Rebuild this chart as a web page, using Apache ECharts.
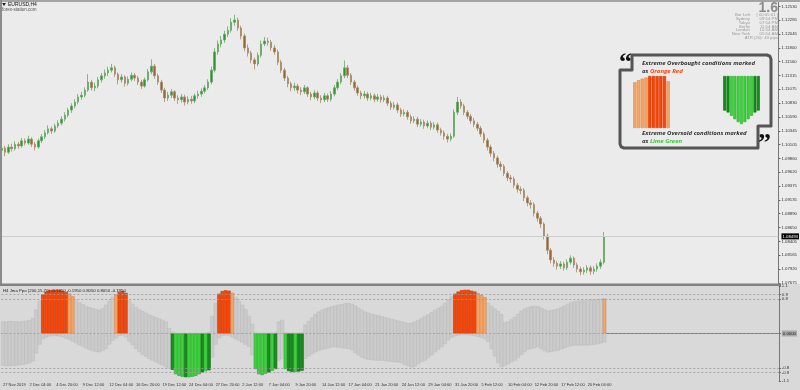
<!DOCTYPE html>
<html><head><meta charset="utf-8">
<script src="https://cdn.jsdelivr.net/npm/echarts@6/dist/echarts.min.js"></script>
<style>html,body{margin:0;padding:0;background:#d9d9d9}#c{width:800px;height:390px}</style>
</head><body><div id="c"></div>
<script>
// ---- data ----
const xLabels = ["27 Nov 2019","2 Dec 04:00","4 Dec 20:00","9 Dec 12:00","12 Dec 04:00","16 Dec 20:00","19 Dec 12:00","24 Dec 04:00","27 Dec 20:00","2 Jan 12:00","7 Jan 04:00","9 Jan 20:00","14 Jan 12:00","17 Jan 04:00","21 Jan 20:00","24 Jan 12:00","29 Jan 04:00","31 Jan 20:00","5 Feb 12:00","10 Feb 04:00","12 Feb 20:00","17 Feb 12:00","20 Feb 04:00"];
const priceTicks = [1.07675,1.07920,1.08165,1.08405,1.08650,1.08890,1.09135,1.09375,1.09620,1.09860,1.10105,1.10345,1.10590,1.10830,1.11075,1.11315,1.11560,1.11800,1.12045,1.12285,1.12530];
const ppoLevels = [1.1,0.9,0.8,0,-0.8,-0.9,-1.1];
const ppoDashed = [0.9,0.8,0,-0.8,-0.9];
const currentPrice = 1.08493;

const opens = [
1.1000,1.1004,1.0997,1.1006,1.1003,1.1011,1.1008,1.1017,1.1013,1.1020,
1.1011,1.1006,1.1017,1.1024,1.1031,1.1038,1.1034,1.1043,1.1048,1.1055,
1.1062,1.1071,1.1078,1.1085,1.1094,1.1097,1.1106,1.1120,1.1110,1.1113,
1.1124,1.1131,1.1136,1.1141,1.1145,1.1134,1.1124,1.1129,1.1118,1.1125,
1.1132,1.1127,1.1120,1.1113,1.1124,1.1138,1.1148,1.1131,1.1120,1.1106,
1.1092,1.1097,1.1103,1.1092,1.1089,1.1094,1.1085,1.1090,1.1087,1.1096,
1.1099,1.1104,1.1110,1.1120,1.1141,1.1173,1.1187,1.1194,1.1204,1.1211,
1.1225,1.1229,1.1215,1.1201,1.1180,1.1171,1.1159,1.1152,1.1167,1.1187,
1.1192,1.1190,1.1180,1.1173,1.1155,1.1141,1.1127,1.1117,1.1110,1.1113,
1.1106,1.1103,1.1110,1.1099,1.1094,1.1101,1.1092,1.1089,1.1096,1.1090,
1.1099,1.1110,1.1120,1.1131,1.1145,1.1132,1.1120,1.1110,1.1101,1.1096,
1.1099,1.1092,1.1096,1.1090,1.1094,1.1089,1.1092,1.1083,1.1076,1.1080,
1.1071,1.1064,1.1067,1.1059,1.1052,1.1055,1.1046,1.1050,1.1043,1.1048,
1.1041,1.1045,1.1036,1.1031,1.1025,1.1020,1.1025,1.1067,1.1085,1.1078,
1.1067,1.1060,1.1052,1.1046,1.1039,1.1029,1.1018,1.1006,1.0995,1.0987,
1.0976,1.0972,1.0960,1.0952,1.0950,1.0939,1.0932,1.0930,1.0917,1.0908,
1.0905,1.0890,1.0881,1.0871,1.0850,1.0825,1.0808,1.0802,1.0797,1.0801,
1.0794,1.0804,1.0811,1.0799,1.0792,1.0787,1.0790,1.0794,1.0788,1.0792,
1.0797,1.0804];
const closes = [
1.1004,1.0997,1.1006,1.1003,1.1011,1.1008,1.1017,1.1013,1.1020,1.1011,
1.1006,1.1017,1.1024,1.1031,1.1038,1.1034,1.1043,1.1048,1.1055,1.1062,
1.1071,1.1078,1.1085,1.1094,1.1097,1.1106,1.1120,1.1110,1.1113,1.1124,
1.1131,1.1136,1.1141,1.1145,1.1134,1.1124,1.1129,1.1118,1.1125,1.1132,
1.1127,1.1120,1.1113,1.1124,1.1138,1.1148,1.1131,1.1120,1.1106,1.1092,
1.1097,1.1103,1.1092,1.1089,1.1094,1.1085,1.1090,1.1087,1.1096,1.1099,
1.1104,1.1110,1.1120,1.1141,1.1173,1.1187,1.1194,1.1204,1.1211,1.1225,
1.1229,1.1215,1.1201,1.1180,1.1171,1.1159,1.1152,1.1167,1.1187,1.1192,
1.1190,1.1180,1.1173,1.1155,1.1141,1.1127,1.1117,1.1110,1.1113,1.1106,
1.1103,1.1110,1.1099,1.1094,1.1101,1.1092,1.1089,1.1096,1.1090,1.1099,
1.1110,1.1120,1.1131,1.1145,1.1132,1.1120,1.1110,1.1101,1.1096,1.1099,
1.1092,1.1096,1.1090,1.1094,1.1089,1.1092,1.1083,1.1076,1.1080,1.1071,
1.1064,1.1067,1.1059,1.1052,1.1055,1.1046,1.1050,1.1043,1.1048,1.1041,
1.1045,1.1036,1.1031,1.1025,1.1020,1.1025,1.1067,1.1085,1.1078,1.1067,
1.1060,1.1052,1.1046,1.1039,1.1029,1.1018,1.1006,1.0995,1.0987,1.0976,
1.0972,1.0960,1.0952,1.0950,1.0939,1.0932,1.0930,1.0917,1.0908,1.0905,
1.0890,1.0881,1.0871,1.0850,1.0825,1.0808,1.0802,1.0797,1.0801,1.0794,
1.0804,1.0811,1.0799,1.0792,1.0787,1.0790,1.0794,1.0788,1.0792,1.0797,
1.0804,1.0849];
const highs = [
1.1010,1.1008,1.1011,1.1012,1.1016,1.1015,1.1022,1.1021,1.1026,1.1023,
1.1015,1.1021,1.1029,1.1036,1.1044,1.1042,1.1047,1.1053,1.1060,1.1067,
1.1075,1.1083,1.1090,1.1099,1.1103,1.1111,1.1134,1.1124,1.1119,1.1129,
1.1136,1.1142,1.1147,1.1152,1.1149,1.1137,1.1134,1.1132,1.1130,1.1137,
1.1136,1.1131,1.1124,1.1128,1.1143,1.1160,1.1152,1.1135,1.1124,1.1110,
1.1103,1.1108,1.1106,1.1097,1.1099,1.1098,1.1095,1.1096,1.1100,1.1105,
1.1109,1.1115,1.1125,1.1147,1.1180,1.1193,1.1201,1.1210,1.1218,1.1232,
1.1238,1.1233,1.1219,1.1205,1.1186,1.1175,1.1163,1.1172,1.1193,1.1199,
1.1198,1.1194,1.1185,1.1177,1.1159,1.1145,1.1131,1.1121,1.1119,1.1117,
1.1111,1.1115,1.1113,1.1103,1.1106,1.1105,1.1097,1.1101,1.1100,1.1104,
1.1115,1.1125,1.1136,1.1158,1.1150,1.1136,1.1124,1.1114,1.1105,1.1104,
1.1103,1.1101,1.1100,1.1099,1.1098,1.1097,1.1096,1.1087,1.1085,1.1084,
1.1075,1.1072,1.1071,1.1063,1.1060,1.1059,1.1055,1.1054,1.1053,1.1052,
1.1050,1.1049,1.1040,1.1035,1.1029,1.1030,1.1072,1.1094,1.1090,1.1082,
1.1071,1.1064,1.1057,1.1050,1.1043,1.1033,1.1022,1.1010,1.0999,1.0991,
1.0981,1.0976,1.0964,1.0957,1.0954,1.0943,1.0937,1.0934,1.0921,1.0913,
1.0909,1.0894,1.0885,1.0874,1.0854,1.0829,1.0813,1.0806,1.0806,1.0805,
1.0809,1.0816,1.0814,1.0803,1.0796,1.0795,1.0799,1.0798,1.0797,1.0802,
1.0809,1.0857];
const lows = [
1.0995,1.0990,1.0994,1.0998,1.1000,1.1003,1.1005,1.1009,1.1010,1.1006,
1.1000,1.1003,1.1013,1.1020,1.1028,1.1029,1.1031,1.1039,1.1044,1.1051,
1.1058,1.1066,1.1074,1.1081,1.1089,1.1093,1.1103,1.1105,1.1104,1.1109,
1.1119,1.1126,1.1131,1.1137,1.1129,1.1116,1.1119,1.1112,1.1114,1.1121,
1.1122,1.1115,1.1108,1.1110,1.1121,1.1134,1.1126,1.1115,1.1101,1.1085,
1.1087,1.1092,1.1087,1.1082,1.1084,1.1079,1.1081,1.1082,1.1083,1.1091,
1.1094,1.1100,1.1106,1.1116,1.1137,1.1168,1.1181,1.1189,1.1199,1.1207,
1.1219,1.1210,1.1195,1.1174,1.1165,1.1153,1.1142,1.1148,1.1163,1.1183,
1.1184,1.1175,1.1168,1.1150,1.1136,1.1122,1.1111,1.1104,1.1105,1.1100,
1.1097,1.1099,1.1094,1.1088,1.1090,1.1087,1.1083,1.1085,1.1085,1.1086,
1.1095,1.1106,1.1116,1.1127,1.1127,1.1115,1.1105,1.1096,1.1090,1.1091,
1.1087,1.1088,1.1085,1.1086,1.1084,1.1085,1.1078,1.1071,1.1072,1.1066,
1.1059,1.1060,1.1054,1.1047,1.1048,1.1041,1.1042,1.1038,1.1039,1.1036,
1.1037,1.1031,1.1026,1.1019,1.1014,1.1016,1.1022,1.1062,1.1073,1.1062,
1.1055,1.1047,1.1041,1.1034,1.1024,1.1013,1.1000,1.0989,1.0981,1.0970,
1.0965,1.0955,1.0946,1.0943,1.0934,1.0926,1.0923,1.0911,1.0902,1.0898,
1.0884,1.0875,1.0864,1.0844,1.0818,1.0802,1.0796,1.0791,1.0792,1.0789,
1.0790,1.0800,1.0794,1.0786,1.0781,1.0782,1.0785,1.0782,1.0783,1.0787,
1.0792,1.0800];

const ppoUpper = [
0.27,0.27,0.28,0.28,0.27,0.27,0.28,0.29,0.30,0.35,
0.55,0.75,0.90,0.97,1.00,1.01,1.01,1.00,0.98,0.96,
0.92,0.86,0.76,0.71,0.67,0.63,0.60,0.58,0.56,0.54,
0.58,0.66,0.75,0.84,0.90,0.96,0.98,0.94,0.76,0.68,
0.60,0.55,0.51,0.47,0.43,0.40,0.37,0.34,0.31,0.27,
0.12,0.03,0.01,0.01,0.01,0.01,0.01,0.01,0.01,0.01,
0.01,0.01,0.03,0.40,0.70,0.92,0.98,1.00,0.99,0.94,
0.84,0.75,0.66,0.56,0.40,0.22,0.02,0.01,0.01,0.01,
0.01,0.01,0.02,0.27,0.31,0.02,0.01,0.01,0.01,0.01,
0.02,0.20,0.28,0.36,0.44,0.50,0.54,0.57,0.60,0.62,
0.64,0.66,0.67,0.69,0.70,0.68,0.64,0.59,0.54,0.50,
0.47,0.45,0.43,0.41,0.39,0.37,0.35,0.33,0.31,0.29,
0.27,0.25,0.23,0.24,0.27,0.31,0.35,0.40,0.44,0.49,
0.54,0.58,0.62,0.70,0.78,0.85,0.92,0.97,1.00,1.01,
1.01,0.99,0.97,0.93,0.89,0.84,0.70,0.63,0.57,0.51,
0.44,0.25,0.27,0.32,0.38,0.45,0.52,0.57,0.60,0.62,
0.63,0.62,0.59,0.55,0.52,0.53,0.55,0.57,0.60,0.64,
0.68,0.72,0.74,0.75,0.76,0.77,0.77,0.78,0.78,0.79,
0.80,0.805];
const ppoLower = [
-0.74,-0.75,-0.75,-0.74,-0.74,-0.73,-0.72,-0.70,-0.68,-0.64,
-0.45,-0.25,-0.12,-0.08,-0.06,-0.05,-0.05,-0.06,-0.08,-0.11,
-0.14,-0.18,-0.22,-0.26,-0.30,-0.34,-0.37,-0.40,-0.42,-0.43,
-0.40,-0.35,-0.25,-0.16,-0.10,-0.05,-0.04,-0.08,-0.18,-0.26,
-0.35,-0.42,-0.48,-0.53,-0.58,-0.62,-0.66,-0.70,-0.73,-0.77,
-0.80,-0.84,-0.94,-0.98,-1.00,-1.01,-1.01,-1.00,-0.98,-0.94,
-0.90,-0.87,-0.85,-0.55,-0.25,-0.10,-0.05,-0.04,-0.05,-0.08,
-0.12,-0.16,-0.20,-0.25,-0.30,-0.50,-0.82,-0.94,-0.96,-0.93,
-0.90,-0.86,-0.82,-0.62,-0.58,-0.82,-0.87,-0.89,-0.89,-0.88,
-0.86,-0.58,-0.52,-0.47,-0.43,-0.40,-0.37,-0.35,-0.33,-0.31,
-0.31,-0.32,-0.33,-0.34,-0.35,-0.38,-0.44,-0.50,-0.55,-0.58,
-0.60,-0.61,-0.62,-0.62,-0.62,-0.63,-0.64,-0.65,-0.66,-0.66,
-0.68,-0.72,-0.75,-0.78,-0.76,-0.70,-0.65,-0.62,-0.56,-0.50,
-0.43,-0.37,-0.31,-0.24,-0.15,-0.09,-0.06,-0.04,-0.03,-0.03,
-0.03,-0.04,-0.05,-0.07,-0.09,-0.12,-0.19,-0.35,-0.52,-0.68,
-0.77,-0.74,-0.70,-0.66,-0.62,-0.56,-0.49,-0.42,-0.37,-0.35,
-0.33,-0.31,-0.35,-0.40,-0.43,-0.42,-0.40,-0.39,-0.36,-0.33,
-0.30,-0.28,-0.27,-0.27,-0.27,-0.27,-0.27,-0.26,-0.25,-0.24,
-0.22,-0.195];
// 0 = normal, 1 = orange red, 2 = light orange, 3 = lime green, 4 = dark green
const ppoState = [
0,0,0,0,0,0,0,0,0,0,
0,0,1,1,1,1,1,1,1,1,
2,2,0,0,0,0,0,0,0,0,
0,0,0,0,2,1,1,1,0,0,
0,0,0,0,0,0,0,0,0,0,
0,4,3,3,3,4,3,3,3,3,
4,3,4,0,0,1,1,1,1,2,
0,0,0,0,0,0,3,3,3,3,
4,3,4,0,0,3,4,4,3,4,
4,0,0,0,0,0,0,0,0,0,
0,0,0,0,0,0,0,0,0,0,
0,0,0,0,0,0,0,0,0,0,
0,0,0,0,0,0,0,0,0,0,
0,0,0,0,0,0,1,1,1,1,
1,1,1,2,2,2,0,0,0,0,
0,0,0,0,0,0,0,0,0,0,
0,0,0,0,0,0,0,0,0,0,
0,0,0,0,0,0,0,0,0,0,
0,2];
// callout illustration bars
const legendOB = [0.88,0.92,0.95,0.97,1,1,1,1,1,0.9];
const legendOBState = [2,2,2,2,1,1,1,1,1,2];
const legendOS = [-0.72,-0.76,-0.83,-0.9,-0.96,-1,-0.96,-0.9,-0.83,-0.76,-0.72];
const legendOSState = [4,4,3,3,3,3,3,3,3,4,4];

// ---- chart ----
const SLOTS = 234;
const slots = Array.from({length: SLOTS}, (_, i) => String(i));
const FONT = '"Liberation Sans", Arial, sans-serif';
const stateFill = ['', '#FF4500', '#F5A463', '#3ED23E', '#13901A'];
const stateEdge = ['', '#C8380A', '#E08A4C', '#25AE25', '#0A6A0F'];
const candleData = closes.map((c, i) => [opens[i], c, lows[i], highs[i]]);
const bandData = ppoUpper.map((u, i) => [i, ppoLower[i], u]);
const extremeData = ppoState.map((s, i) => s === 0 ? '-' : {
  value: s <= 2 ? ppoUpper[i] : ppoLower[i],
  itemStyle: {color: stateFill[s], borderColor: stateEdge[s], borderWidth: 0.6}
});
const legendItems = (vals, states) => vals.map((v, i) => ({value: v, itemStyle: {color: stateFill[states[i]], borderColor: stateEdge[states[i]], borderWidth: 0.6}}));
const xInterval = (idx) => idx % 8 === 0 && idx / 8 < xLabels.length;

const infoRows = [['Bar Left','[ 00:05:01 ]'],['Sydney','09:54 PM'],['Tokyo','07:54 PM'],['Berlin','11:54 AM'],['London','10:54 AM'],['New York','05:54 AM']];
const calloutOutline = [[632,55],[767,55],[769.8,56.2],[771,59],[771,126],[758,126],[758,148],[624,148],[621.2,146.8],[620,144],[620,70],[632,70]];
const graphics = [
  {type:'rect', z:-10, shape:{x:0,y:0,width:800,height:284}, style:{fill:'#EBEBEB'}},
  {type:'rect', z:50, shape:{x:0,y:0,width:800,height:2}, style:{fill:'#A4A4A4'}},
  {type:'rect', z:50, shape:{x:0,y:0,width:2,height:284}, style:{fill:'#8C8C8C'}},
  {type:'rect', z:50, shape:{x:0,y:283.5,width:781,height:2.5}, style:{fill:'#828282'}},
  {type:'polygon', z:60, shape:{points:[[2,3],[6,3],[4,6]]}, style:{fill:'#222'}},
  {type:'text', z:60, x:8, y:2, style:{text:'EURUSD,H4', font:'5px '+FONT, fill:'#111', textVerticalAlign:'top'}},
  {type:'text', z:60, x:2, y:7.5, style:{text:'forex-station.com', font:'4.5px '+FONT, fill:'#555', textVerticalAlign:'top'}},
  {type:'text', z:60, x:778, y:1, style:{text:'1.6', font:'bold 14px '+FONT, fill:'#8C8C8C', textAlign:'right', textVerticalAlign:'top'}},
  {type:'text', z:60, x:778, y:38, style:{text:'ATR (20): 43 pips', font:'4.3px '+FONT, fill:'#999', textAlign:'right', textVerticalAlign:'middle'}},
  {type:'text', z:60, x:3, y:289, style:{text:'H4 Jma Ppo (200,15,70) -0.1950 -0.1950 0.8050 0.8050 -0.1950', font:'4.3px '+FONT, fill:'#222', textVerticalAlign:'top'}},
  // callout
  {type:'polygon', z:60, shape:{points: calloutOutline}, style:{fill:'none', stroke:'#555', lineWidth:3, lineJoin:'round'}},
  {type:'text', z:60, x:619, y:50, style:{text:'\u201C', font:'bold 26px "Liberation Serif", serif', fill:'#111', textVerticalAlign:'top'}},
  {type:'text', z:60, x:758, y:131, style:{text:'\u201D', font:'bold 26px "Liberation Serif", serif', fill:'#111', textVerticalAlign:'top'}},
  {type:'text', z:60, x:642, y:63, style:{text:'Extreme Overbought conditions marked', font:'italic bold 6px "Open Sans", sans-serif', fill:'#333', textVerticalAlign:'middle'}},
  {type:'text', z:60, x:642, y:71, style:{text:'as {o|Orange Red}', font:'italic bold 6px "Open Sans", sans-serif', fill:'#333', textVerticalAlign:'middle', rich:{o:{fill:'#FF4500', font:'italic bold 6px "Open Sans", sans-serif'}}}},
  {type:'text', z:60, x:642, y:133, style:{text:'Extreme Oversold conditions marked', font:'italic bold 6px "Open Sans", sans-serif', fill:'#333', textVerticalAlign:'middle'}},
  {type:'text', z:60, x:642, y:141, style:{text:'as {g|Lime Green}', font:'italic bold 6px "Open Sans", sans-serif', fill:'#333', textVerticalAlign:'middle', rich:{g:{fill:'#32CD32', font:'italic bold 6px "Open Sans", sans-serif'}}}}
];
infoRows.forEach((r, k) => {
  const y = 15 + k * 3.8;
  graphics.push({type:'text', z:60, x:750, y:y, style:{text:r[0], font:'4.3px '+FONT, fill:'#999', textAlign:'right', textVerticalAlign:'middle'}});
  graphics.push({type:'text', z:60, x:778, y:y, style:{text:r[1], font:'4.3px '+FONT, fill:'#999', textAlign:'right', textVerticalAlign:'middle'}});
});

const option = {
  animation: false,
  backgroundColor: '#D9D9D9',
  textStyle: {fontFamily: FONT},
  grid: [
    {left: 0, right: 19, top: 0, height: 284},
    {left: 0, right: 19, top: 286, height: 95},
    {left: 633, top: 76, width: 37, height: 52},
    {left: 723, top: 76, width: 37, height: 48}
  ],
  xAxis: [
    {type: 'category', gridIndex: 0, data: slots, show: false},
    {type: 'category', gridIndex: 1, data: slots,
      axisLine: {show: true, lineStyle: {color: '#777', width: 1}},
      axisTick: {show: true, interval: xInterval, alignWithLabel: true, length: 2, lineStyle: {color: '#666'}},
      axisLabel: {show: true, interval: xInterval, formatter: (v, idx) => xLabels[idx / 8] || '', align: 'left', fontSize: 4, color: '#333', margin: 2},
      splitLine: {show: false}},
    {type: 'category', gridIndex: 2, data: legendOB.map((_, i) => String(i)), show: false},
    {type: 'category', gridIndex: 3, data: legendOS.map((_, i) => String(i)), show: false}
  ],
  yAxis: [
    {type: 'value', gridIndex: 0, position: 'right', min: 1.07657, max: 1.12641, scale: true,
      axisLine: {show: true, lineStyle: {color: '#777'}},
      axisTick: {show: true, length: 2, customValues: priceTicks, lineStyle: {color: '#666'}},
      axisLabel: {customValues: priceTicks, formatter: v => v.toFixed(5), fontSize: 4.3, color: '#333', margin: 3},
      splitLine: {show: false}},
    {type: 'value', gridIndex: 1, position: 'right', min: -1.1, max: 1.1,
      axisLine: {show: true, lineStyle: {color: '#777'}},
      axisTick: {show: true, length: 2, customValues: ppoLevels, lineStyle: {color: '#666'}},
      axisLabel: {customValues: ppoLevels, fontSize: 4.3, color: '#333', margin: 3,
        formatter: v => v === 0 ? '{z|0.0000}' : String(v),
        rich: {z: {backgroundColor: '#A9A9A9', color: '#222', fontSize: 4.3, padding: [1, 1]}}},
      splitLine: {show: false}},
    {type: 'value', gridIndex: 2, min: 0, max: 1, show: false},
    {type: 'value', gridIndex: 3, min: -1, max: 0, show: false}
  ],
  series: [
    {type: 'line', xAxisIndex: 0, yAxisIndex: 0, data: [], silent: true, z: 1,
      markLine: {silent: true, symbol: 'none', precision: 5, data: [{yAxis: currentPrice}],
        lineStyle: {color: '#CDCDCD', width: 1, type: 'solid'},
        label: {position: 'end', formatter: currentPrice.toFixed(5), backgroundColor: '#000', color: '#fff', fontSize: 4.3, padding: [1, 1], distance: 3}}},
    {type: 'candlestick', xAxisIndex: 0, yAxisIndex: 0, data: candleData, barWidth: 2, z: 3,
      itemStyle: {color: '#2C962C', color0: '#9A6530', borderColor: '#68A868', borderColor0: '#A58B6A', borderWidth: 0.8}},
    {type: 'custom', xAxisIndex: 1, yAxisIndex: 1, data: bandData, encode: {x: 0, y: [1, 2]},
      renderItem: (params, api) => {
        const i = api.value(0);
        const top = api.coord([i, api.value(2)]);
        const bot = api.coord([i, api.value(1)]);
        const w = api.size([1, 0])[0];
        return {type: 'rect', shape: {x: top[0] - w / 2, y: top[1], width: w, height: bot[1] - top[1]},
          style: {fill: '#CBCBCB', stroke: '#BABABA', lineWidth: 0.5}};
      }},
    {type: 'bar', xAxisIndex: 1, yAxisIndex: 1, data: extremeData, barWidth: '100%',
      markLine: {silent: true, symbol: 'none', precision: 3, data: ppoDashed.map(v => ({yAxis: v})),
        lineStyle: {color: '#9A9A9A', width: 0.8, type: [2, 2]}, label: {show: false}}},
    {type: 'bar', xAxisIndex: 2, yAxisIndex: 2, data: legendItems(legendOB, legendOBState), barCategoryGap: '12%'},
    {type: 'bar', xAxisIndex: 3, yAxisIndex: 3, data: legendItems(legendOS, legendOSState), barCategoryGap: '12%'}
  ],
  graphic: graphics
};
const chart = echarts.init(document.getElementById('c'));
chart.setOption(option);
</script>
</body></html>
